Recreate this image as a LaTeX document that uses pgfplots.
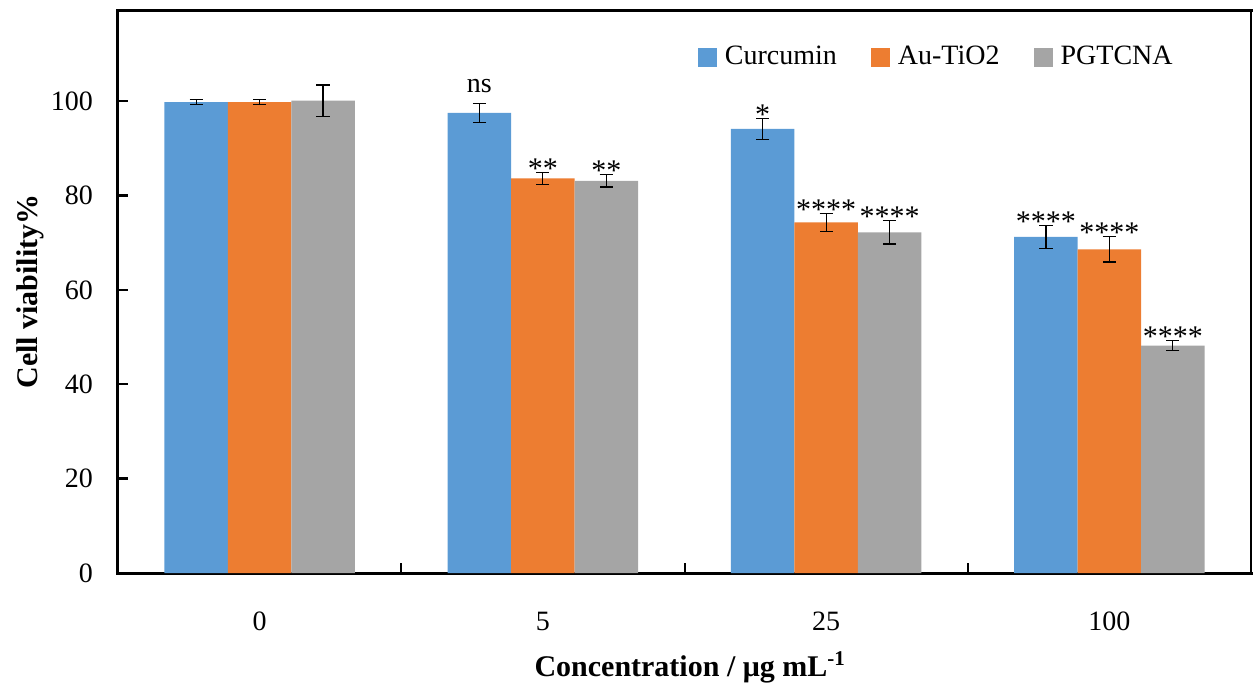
\documentclass[border=0pt]{standalone}
\usepackage{pgfplots}
\pgfplotsset{compat=1.18}
\usepackage{fontspec}
\setmainfont{Liberation Serif}
\definecolor{cblue}{HTML}{5B9BD5}
\definecolor{corange}{HTML}{ED7D31}
\definecolor{cgray}{HTML}{A5A5A5}
\begin{document}
\begin{tikzpicture}
\begin{axis}[
  scale only axis, width=566.5pt, height=281.5pt,
  xmin=-0.5, xmax=3.5, ymin=0, ymax=119.3,
  clip=false,
  axis x line*=bottom, axis y line*=left,
  axis line style={line width=1.5pt, line cap=rect},
  tick align=inside,
  xtick={0,1,2,3}, xticklabels={0,5,25,100},
  minor xtick={0.5,1.5,2.5},
  major x tick style={draw=none},
  minor x tick style={line width=1pt, black},
  minor tick length=5pt,
  ytick={0,20,40,60,80,100},
  major tick length=5pt,
  y tick style={line width=1.2pt, black},
  /pgf/number format/assume math mode=true,
  tick label style={font=\fontsize{14}{16}\selectfont},
  xticklabel style={yshift=-16pt},
  yticklabel style={xshift=-9pt},
  every axis y label/.style={at={(axis description cs:-0.0777,0.5)}, rotate=90, anchor=center, font=\fontsize{15}{18}\selectfont\bfseries},
  every axis x label/.style={at={(axis description cs:0.505,-0.168)}, anchor=center, font=\fontsize{15}{18}\selectfont\bfseries},
  ylabel={Cell viability\%},
  xlabel={Concentration / μg mL\textsuperscript{-1}},
  legend style={at={(axis description cs:0.940,0.9165)}, anchor=east, draw=none, fill=none,
    font=\fontsize{14}{16}\selectfont, legend columns=-1,
    /tikz/every odd column/.append style={column sep=2pt},
    /tikz/every even column/.append style={column sep=15pt}},
  legend image code/.code={\fill[#1, draw=none] (0pt,-4.75pt) rectangle (9.5pt,4.75pt);},
  error bars/error bar style={line width=0.6pt, black},
  error bars/error mark options={rotate=90, mark size=3.3pt, line width=0.6pt, black},
]
\addplot[ybar, bar width=0.224, bar shift=0, fill=cblue, draw=none,
  error bars/.cd, y dir=both, y explicit]
  coordinates {(-0.224,99.8) +- (0,0.5) (0.776,97.5) +- (0,2.0) (1.776,94.1) +- (0,2.2) (2.776,71.2) +- (0,2.5)};
\addlegendentry{Curcumin}
\addplot[ybar, bar width=0.224, bar shift=0, fill=corange, draw=none,
  error bars/.cd, y dir=both, y explicit]
  coordinates {(0,99.8) +- (0,0.5) (1,83.6) +- (0,1.3) (2,74.3) +- (0,1.9) (3,68.6) +- (0,2.7)};
\addlegendentry{Au-TiO2}
\addplot[ybar, bar width=0.224, bar shift=0, fill=cgray, draw=none,
  error bars/.cd, y dir=both, y explicit]
  coordinates {(0.224,100.1) +- (0,3.3) (1.224,83.1) +- (0,1.3) (2.224,72.2) +- (0,2.5) (3.224,48.2) +- (0,1.1)};
\addlegendentry{PGTCNA}
% significance labels
\addplot[draw=none, mark=none, forget plot, nodes near coords, point meta=explicit symbolic,
  every node near coord/.append style={anchor=base, yshift=5.5pt, font=\fontsize{14}{16}\selectfont}]
  coordinates {(0.776,99.5)[ns]};
\addplot[draw=none, mark=none, forget plot, nodes near coords, point meta=explicit symbolic,
  every node near coord/.append style={anchor=base, yshift=-3pt, font=\fontsize{15}{16}\selectfont}]
  coordinates {(1,84.9)[**] (1.224,84.4)[**] (1.776,96.3)[*] (2,76.2)[****] (2.224,74.7)[****]
               (2.776,73.7)[****] (3,71.3)[****] (3.224,49.3)[****]};
\draw[line width=1.5pt, line cap=rect] (rel axis cs:0,1) -- (rel axis cs:1,1);
\draw[line width=0.6pt] (rel axis cs:1,0) -- (rel axis cs:1,1);
\end{axis}
\pgfresetboundingbox
\path[use as bounding box] ([xshift=-59pt,yshift=-59.5pt]current axis.south west) rectangle ([xshift=2pt,yshift=5pt]current axis.north east);
\end{tikzpicture}
\end{document}
